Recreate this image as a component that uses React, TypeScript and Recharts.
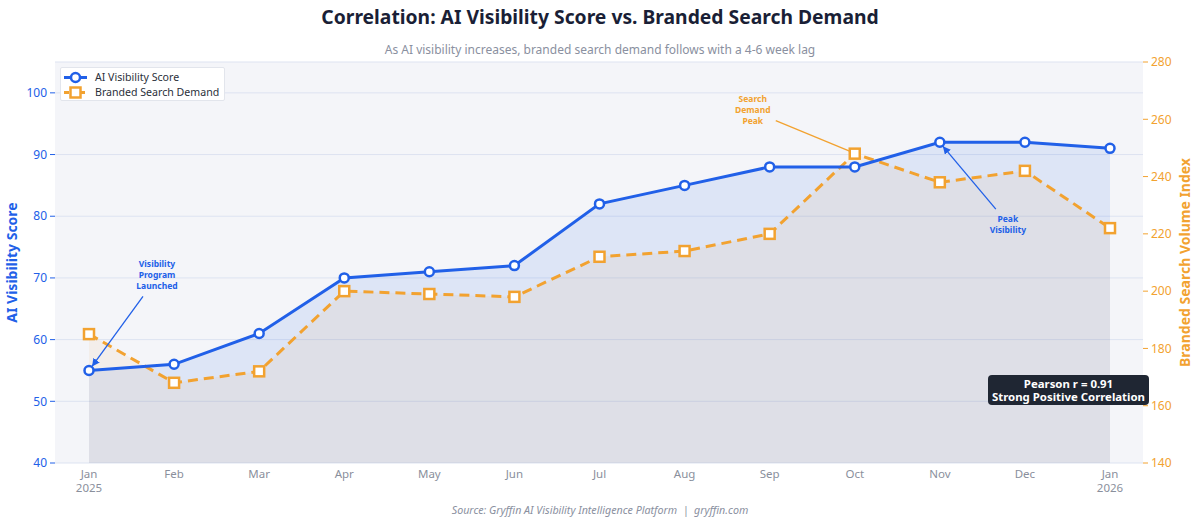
import React from "react";
import {
  ComposedChart,
  Line,
  Area,
  XAxis,
  YAxis,
  CartesianGrid,
  ReferenceDot,
} from "recharts";

const months = [
  "Jan\n2025", "Feb", "Mar", "Apr", "May", "Jun", "Jul",
  "Aug", "Sep", "Oct", "Nov", "Dec", "Jan\n2026",
];
const visibilityScore = [55, 56, 61, 70, 71, 72, 82, 85, 88, 88, 92, 92, 91];
const searchDemand = [185, 168, 172, 200, 199, 198, 212, 214, 220, 248, 238, 242, 222];
const scoreTicks = [40, 50, 60, 70, 80, 90, 100];
const demandTicks = [140, 160, 180, 200, 220, 240, 260, 280];

const BLUE = "#2160e8";
const ORANGE = "#f2a230";
const FONT = "'Noto Sans', 'Open Sans', sans-serif";

const data = months.map((month, i) => ({
  month,
  score: visibilityScore[i],
  demand: searchDemand[i],
}));

const MonthTick = (props: any) => {
  const { x, y, payload } = props;
  const lines = String(payload.value).split("\n");
  return (
    <g>
      {lines.map((l, i) => (
        <text
          key={i}
          x={x}
          y={y + 7 + i * 14}
          textAnchor="middle"
          fill="#8a8f9c"
          fontSize={11.5}
          fontFamily={FONT}
        >
          {l}
        </text>
      ))}
    </g>
  );
};

const SquareDot = (props: any) => {
  const { cx, cy, index } = props;
  return (
    <rect
      key={`sq-${index}`}
      x={cx - 5}
      y={cy - 5}
      width={10}
      height={10}
      fill="#fff"
      stroke={ORANGE}
      strokeWidth={2.5}
    />
  );
};

const legendItems = [
  { name: "AI Visibility Score", color: BLUE, square: false, dash: undefined },
  { name: "Branded Search Demand", color: ORANGE, square: true, dash: "5 3" },
];

const LegendBox = () => (
  <div
    style={{
      position: "absolute",
      left: 60,
      top: 67,
      height: 34,
      boxSizing: "border-box",
      background: "#fff",
      border: "1px solid #e2e5ec",
      borderRadius: 2,
      padding: "2px 5px 0 2px",
      fontSize: 10.6,
      color: "#2a2f3a",
      lineHeight: "15px",
      whiteSpace: "nowrap",
    }}
  >
    {legendItems.map((item) => (
      <div key={item.name} style={{ display: "flex", alignItems: "center" }}>
        <svg width={25} height={15} style={{ marginRight: 7 }}>
          <line x1={1} y1={7.5} x2={24} y2={7.5} stroke={item.color} strokeWidth={3} strokeDasharray={item.dash} />
          {item.square ? (
            <rect x={7.5} y={2.5} width={10} height={10} fill="#fff" stroke={item.color} strokeWidth={2.5} />
          ) : (
            <circle cx={12.5} cy={7.5} r={4.5} fill="#fff" stroke={item.color} strokeWidth={2.5} />
          )}
        </svg>
        {item.name}
      </div>
    ))}
  </div>
);

// annotation drawn relative to the point it refers to
const note = (
  lines: string[],
  color: string,
  tx: number,
  ty: number,
  ax: number,
  ay: number,
  ex: number,
  ey: number,
  head: boolean,
  id: string
) => (props: any) => {
  const { cx, cy } = props;
  return (
    <g>
      <defs>
        <marker id={id} markerWidth={8} markerHeight={8} refX={6} refY={3} orient="auto">
          <path d="M0,0 L6,3 L0,6 Z" fill={color} />
        </marker>
      </defs>
      <line
        x1={cx + ax}
        y1={cy + ay}
        x2={cx + ex}
        y2={cy + ey}
        stroke={color}
        strokeWidth={1.3}
        markerEnd={head ? `url(#${id})` : undefined}
      />
      {lines.map((l, i) => (
        <text
          key={i}
          x={cx + tx}
          y={cy + ty + i * 11}
          textAnchor="middle"
          fill={color}
          fontSize={8.5}
          fontWeight={700}
          fontFamily={FONT}
        >
          {l}
        </text>
      ))}
    </g>
  );
};

const axisTitle = (text: string, color: string, x: number) => (props: any) => {
  const { viewBox } = props;
  const cy = viewBox.y + viewBox.height / 2;
  return (
    <text
      x={x}
      y={cy}
      transform={`rotate(-90 ${x} ${cy})`}
      textAnchor="middle"
      dominantBaseline="middle"
      fill={color}
      fontSize={14}
      fontWeight={700}
      fontFamily={FONT}
    >
      {text}
    </text>
  );
};

export default function App() {
  return (
    <div
      style={{
        position: "absolute",
        left: 0,
        top: 0,
        width: 1200,
        height: 523,
        background: "#fff",
        fontFamily: FONT,
      }}
    >
      <div
        style={{
          position: "absolute",
          top: 3,
          width: 1200,
          textAlign: "center",
          fontSize: 19.3,
          fontWeight: 700,
          color: "#1a1f36",
        }}
      >
        Correlation: AI Visibility Score vs. Branded Search Demand
      </div>
      <div
        style={{
          position: "absolute",
          top: 41,
          width: 1200,
          textAlign: "center",
          fontSize: 12,
          color: "#8a90a0",
        }}
      >
        As AI visibility increases, branded search demand follows with a 4-6 week lag
      </div>

      <ComposedChart
        width={1200}
        height={523}
        data={data}
        margin={{ top: 62, right: 12, bottom: 30, left: 10 }}
      >
        <CartesianGrid
          yAxisId="score"
          vertical={false}
          stroke="#dde3f1"
          fill="#f4f5f9"
          fillOpacity={1}
        />
        <XAxis
          dataKey="month"
          height={30}
          padding={{ left: 34, right: 33 }}
          axisLine={false}
          tickLine={false}
          interval={0}
          tick={<MonthTick />}
        />
        <YAxis
          yAxisId="score"
          orientation="left"
          width={45}
          domain={[40, 105]}
          ticks={scoreTicks}
          axisLine={false}
          tickSize={5}
          tickMargin={3}
          tickLine={{ stroke: BLUE }}
          tick={{ fill: BLUE, fontSize: 12, fontFamily: FONT }}
          label={{ content: axisTitle("AI Visibility Score", BLUE, 13) }}
        />
        <YAxis
          yAxisId="demand"
          orientation="right"
          width={45}
          domain={[140, 280]}
          ticks={demandTicks}
          axisLine={false}
          tickSize={5}
          tickMargin={3}
          tickLine={{ stroke: ORANGE }}
          tick={{ fill: ORANGE, fontSize: 12, fontFamily: FONT }}
          label={{ content: axisTitle("Branded Search Volume Index", ORANGE, 1186) }}
        />
        <Area
          yAxisId="score"
          dataKey="score"
          stroke="none"
          fill={BLUE}
          fillOpacity={0.11}
          isAnimationActive={false}
        />
        <Area
          yAxisId="demand"
          dataKey="demand"
          stroke="none"
          fill={ORANGE}
          fillOpacity={0.07}
          isAnimationActive={false}
        />
        <Line
          yAxisId="demand"
          dataKey="demand"
          name="Branded Search Demand"
          stroke={ORANGE}
          strokeWidth={3}
          strokeDasharray="10 6"
          dot={<SquareDot />}
          isAnimationActive={false}
        />
        <Line
          yAxisId="score"
          dataKey="score"
          name="AI Visibility Score"
          stroke={BLUE}
          strokeWidth={3}
          dot={{ r: 4.5, fill: "#fff", stroke: BLUE, strokeWidth: 2.5 }}
          isAnimationActive={false}
        />
        <ReferenceDot
          yAxisId="score"
          x={months[0]}
          y={visibilityScore[0]}
          shape={note(["Visibility", "Program", "Launched"], BLUE, 68, -103, 54, -74, 3, -4, true, "arrBlue1")}
        />
        <ReferenceDot
          yAxisId="demand"
          x={months[9]}
          y={searchDemand[9]}
          shape={note(["Search", "Demand", "Peak"], ORANGE, -102, -52, -79, -33, -4, -2, false, "arrOrange")}
        />
        <ReferenceDot
          yAxisId="score"
          x={months[10]}
          y={visibilityScore[10]}
          shape={note(["Peak", "Visibility"], BLUE, 68, 80, 56, 67, 3, 4, true, "arrBlue2")}
        />
      </ComposedChart>

      <LegendBox />

      <div
        style={{
          position: "absolute",
          left: 988,
          top: 375,
          width: 161,
          height: 30,
          background: "#1f2633",
          borderRadius: 4,
          color: "#fff",
          fontSize: 11.4,
          fontWeight: 700,
          lineHeight: "13px",
          textAlign: "center",
          paddingTop: 2,
          boxSizing: "border-box",
        }}
      >
        Pearson r = 0.91
        <br />
        Strong Positive Correlation
      </div>

      <div
        style={{
          position: "absolute",
          top: 503,
          width: 1200,
          textAlign: "center",
          fontSize: 10.7,
          fontStyle: "italic",
          color: "#8a90a0",
        }}
      >
        Source: Gryffin AI Visibility Intelligence Platform&nbsp; | &nbsp;gryffin.com
      </div>
    </div>
  );
}
